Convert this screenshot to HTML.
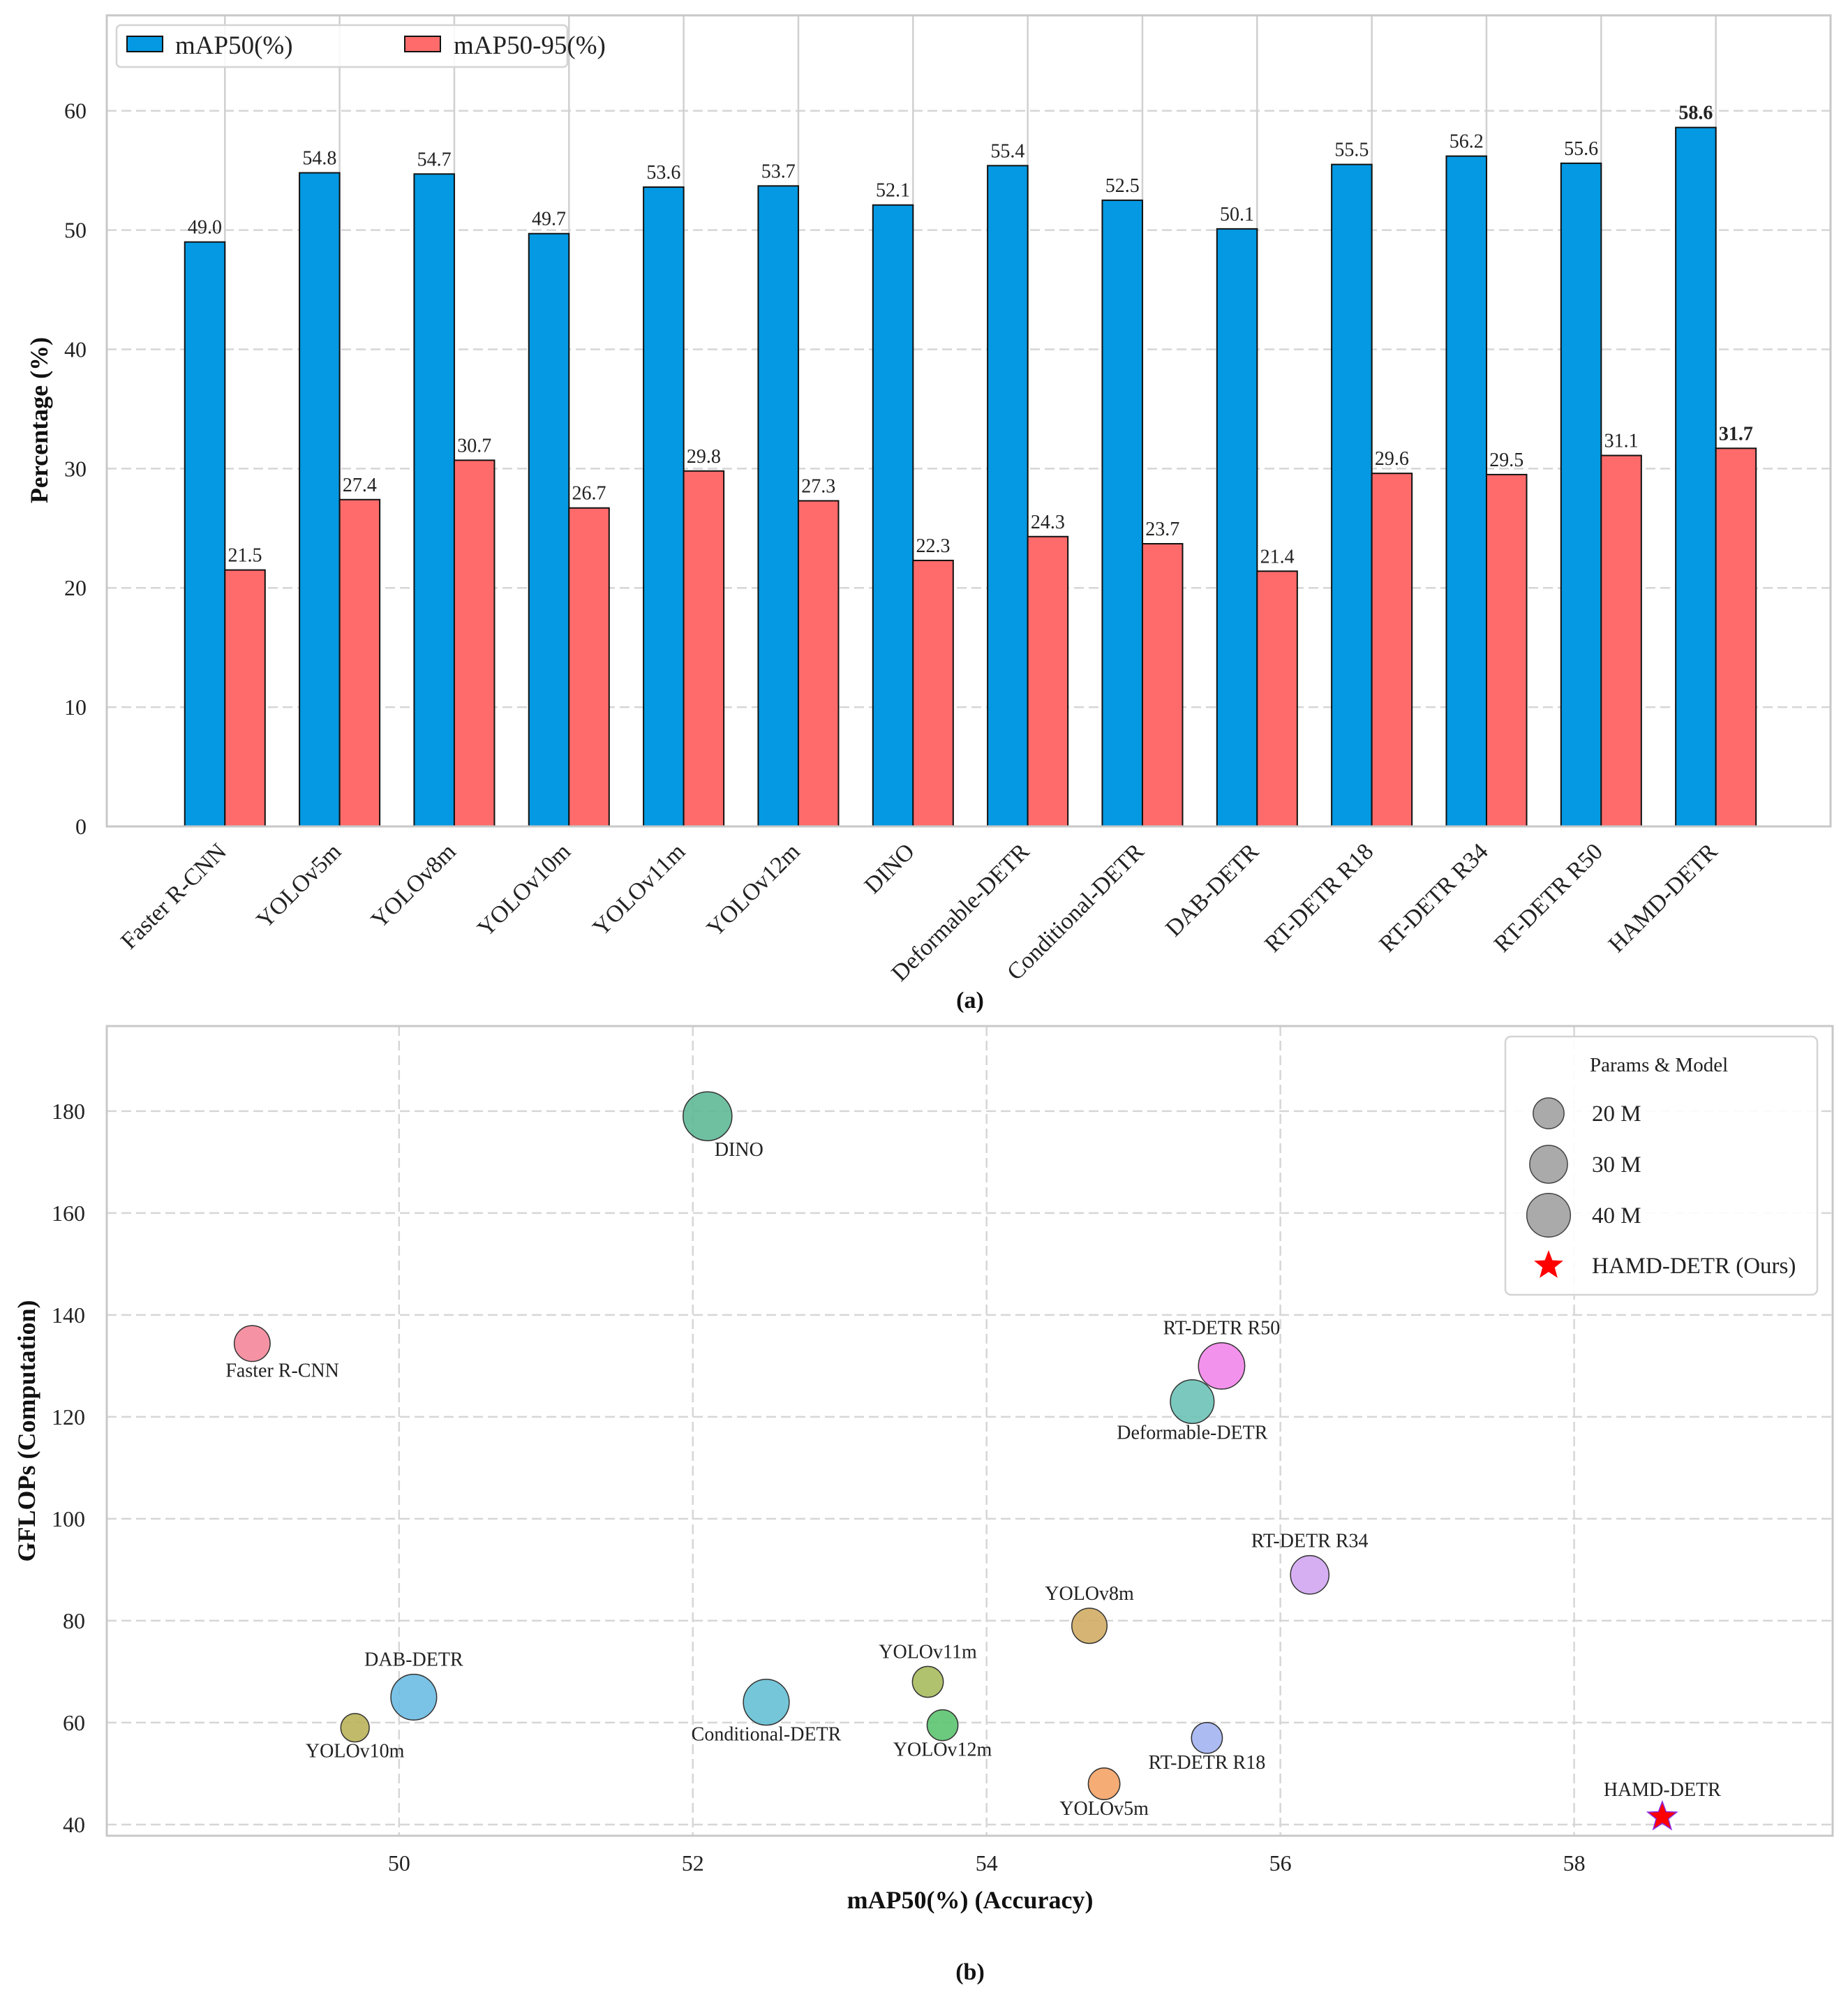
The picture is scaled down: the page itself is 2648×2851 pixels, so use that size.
<!DOCTYPE html>
<html><head><meta charset="utf-8"><style>
html,body{margin:0;padding:0;background:#fff;}
svg{display:block;font-family:"Liberation Serif",serif;}
</style></head><body>
<svg id="fig" width="2648" height="2851" viewBox="0 0 2648 2851" xmlns="http://www.w3.org/2000/svg"></svg>
<script>
const models = ["Faster R-CNN","YOLOv5m","YOLOv8m","YOLOv10m","YOLOv11m","YOLOv12m","DINO","Deformable-DETR","Conditional-DETR","DAB-DETR","RT-DETR R18","RT-DETR R34","RT-DETR R50","HAMD-DETR"];
const map50 = [49.0,54.8,54.7,49.7,53.6,53.7,52.1,55.4,52.5,50.1,55.5,56.2,55.6,58.6];
const map5095 = [21.5,27.4,30.7,26.7,29.8,27.3,22.3,24.3,23.7,21.4,29.6,29.5,31.1,31.7];
const yTicksA = [0,10,20,30,40,50,60];
const gflops = [134.4,48,79,59,68,59.5,179,123,64,65,57,89,130,41.5];
const params = [27,21,26,17,20,20,50,40,44,44,20,31,45,0];
const colors = ["#f4879b","#f4a366","#d1ad65","#b9b25a","#a9bb5e","#5cc470","#5fb996","#6cc2b7","#66c0d4","#6cbbe3","#a4b4f2","#d1a6f2","#f286ea","#ff0000"];
const xTicksB = [50,52,54,56,58];
const yTicksB = [40,60,80,100,120,140,160,180];
const legendSizes = [20,30,40];

const NS="http://www.w3.org/2000/svg";
const svg=document.getElementById('fig');
function mk(tag,attrs,parent,text){const e=document.createElementNS(NS,tag);for(const k in attrs)e.setAttribute(k,attrs[k]);if(text!==undefined)e.textContent=text;(parent||svg).appendChild(e);return e;}

// ---------- Chart (a) ----------
const A={l:153,r:2623,t:22,b:1184,x0:-1.03,x1:14.0,y0:0,y1:68};
const ax=v=>A.l+(v-A.x0)/(A.x1-A.x0)*(A.r-A.l);
const ay=v=>A.b-(v-A.y0)/(A.y1-A.y0)*(A.b-A.t);
const gA=mk('g',{});


yTicksA.forEach(t=>{
  const l=mk('line',{x1:A.l,x2:A.r,y1:ay(t),y2:ay(t),stroke:'#d6d6d6','stroke-width':2.5,'stroke-dasharray':'14,7'},gA);
  
  const tx=mk('text',{x:124,y:ay(t)+11,'text-anchor':'end','font-size':32,fill:'#222'},gA,String(t));
  
});
models.forEach((m,i)=>{
  const l=mk('line',{x1:ax(i),x2:ax(i),y1:A.t,y2:A.b,stroke:'#d0d0d0','stroke-width':2.5},gA);
  
});
const bw=0.35*(ax(1)-ax(0));
models.forEach((m,i)=>{
  const bold=i===models.length-1;
  const b1=mk('rect',{x:ax(i)-bw,y:ay(map50[i]),width:bw,height:ay(0)-ay(map50[i]),fill:'#0499e2',stroke:'#111','stroke-width':2},gA);
  
  const b2=mk('rect',{x:ax(i),y:ay(map5095[i]),width:bw,height:ay(0)-ay(map5095[i]),fill:'#ff6b6b',stroke:'#111','stroke-width':2},gA);
  
  const t1=mk('text',{x:ax(i)-bw/2,y:ay(map50[i])-12,'text-anchor':'middle','font-size':28,fill:'#222','font-weight':bold?'bold':'normal'},gA,map50[i].toFixed(1));
  
  const t2=mk('text',{x:ax(i)+bw/2,y:ay(map5095[i])-12,'text-anchor':'middle','font-size':28,fill:'#222','font-weight':bold?'bold':'normal'},gA,map5095[i].toFixed(1));
  
  const tl=mk('text',{x:0,y:0,'text-anchor':'end','font-size':34,fill:'#222',transform:`translate(${ax(i)+4},${A.b+38}) rotate(-45)`},gA,m);
  
});
const fa=mk('rect',{x:A.l,y:A.t,width:A.r-A.l,height:A.b-A.t,fill:'none',stroke:'#c8c8c8','stroke-width':3},gA);

const yla=mk('text',{x:0,y:0,'text-anchor':'middle','font-size':36,'font-weight':'bold',fill:'#111',transform:'translate(68,602) rotate(-90)'},gA,'Percentage (%)');

const capA=mk('text',{x:1390,y:1444,'text-anchor':'middle','font-size':34,'font-weight':'bold',fill:'#111'},gA,'(a)');

// legend a
const lgA=mk('g',{},gA);

mk('rect',{x:167,y:36,width:646,height:60,rx:6,fill:'rgba(255,255,255,0.85)',stroke:'#d4d4d4','stroke-width':2.5},lgA);
const le1=mk('rect',{x:182,y:52,width:51,height:22,fill:'#0499e2',stroke:'#111','stroke-width':2},lgA);

const lt1=mk('text',{x:251,y:77,'font-size':37,fill:'#222'},lgA,'mAP50(%)');

const le2=mk('rect',{x:580,y:52,width:51,height:22,fill:'#ff6b6b',stroke:'#111','stroke-width':2},lgA);

const lt2=mk('text',{x:650,y:77,'font-size':37,fill:'#222'},lgA,'mAP50-95(%)');


// ---------- Chart (b) ----------
const B={l:153,r:2626,t:1470,b:2630,x0:48.01,x1:59.76,y0:37.8,y1:196.7};
const bx=v=>B.l+(v-B.x0)/(B.x1-B.x0)*(B.r-B.l);
const by=v=>B.b-(v-B.y0)/(B.y1-B.y0)*(B.b-B.t);
const gB=mk('g',{});


yTicksB.forEach(t=>{
  const l=mk('line',{x1:B.l,x2:B.r,y1:by(t),y2:by(t),stroke:'#d6d6d6','stroke-width':2.5,'stroke-dasharray':'14,7'},gB);
  
  const tx=mk('text',{x:122,y:by(t)+11,'text-anchor':'end','font-size':32,fill:'#222'},gB,String(t));
  
});
xTicksB.forEach(t=>{
  const l=mk('line',{x1:bx(t),x2:bx(t),y1:B.t,y2:B.b,stroke:'#d6d6d6','stroke-width':2.5,'stroke-dasharray':'14,7'},gB);
  
  const tx=mk('text',{x:bx(t),y:2680,'text-anchor':'middle','font-size':32,fill:'#222'},gB,String(t));
  
});
const rad=p=>4.95*Math.sqrt(p);
const place=["br","b","a","b","a","b","br","b","b","a","b","a","a","a"];
function star(cx,cy,R){let d='';for(let k=0;k<10;k++){const r=k%2?R*0.42:R;const a=-Math.PI/2+k*Math.PI/5;d+=(k?'L':'M')+(cx+r*Math.cos(a)).toFixed(1)+','+(cy+r*Math.sin(a)).toFixed(1);}return d+'Z';}
models.forEach((m,i)=>{
  const cx=bx(map50[i]),cy=by(gflops[i]);
  let r;
  if(i===models.length-1){
    r=18;
    const s=mk('path',{d:star(cx,cy,22),fill:'#ff0000',stroke:'#8a2be2','stroke-width':1.5},gB);
    
  } else {
    r=rad(params[i]);
    const c=mk('circle',{cx:cx,cy:cy,r:r,fill:colors[i],'fill-opacity':0.9,stroke:'#333','stroke-width':1.5},gB);
    
  }
  let tx=cx,ty,anchor='middle';
  if(place[i]==='a'){ty=cy-r-12;}
  else if(place[i]==='b'){ty=cy+r+22;}
  else {tx=cx+10;ty=cy+r+22;anchor='start';}
  if(place[i]==='br'&&i===0){tx=cx-38;}
  const t=mk('text',{x:tx,y:ty,'text-anchor':anchor,'font-size':28,fill:'#222'},gB,m);
  
});
const fb=mk('rect',{x:B.l,y:B.t,width:B.r-B.l,height:B.b-B.t,fill:'none',stroke:'#c8c8c8','stroke-width':3},gB);

const ylb=mk('text',{x:0,y:0,'text-anchor':'middle','font-size':36,'font-weight':'bold',fill:'#111',transform:'translate(50,2050) rotate(-90)'},gB,'GFLOPs (Computation)');

const xlb=mk('text',{x:1390,y:2734,'text-anchor':'middle','font-size':36,'font-weight':'bold',fill:'#111'},gB,'mAP50(%) (Accuracy)');

const capB=mk('text',{x:1390,y:2836,'text-anchor':'middle','font-size':34,'font-weight':'bold',fill:'#111'},gB,'(b)');

// legend b
const lgB=mk('g',{},gB);

mk('rect',{x:2157,y:1485,width:447,height:370,rx:8,fill:'rgba(255,255,255,0.9)',stroke:'#d4d4d4','stroke-width':2.5},lgB);
const lgt=mk('text',{x:2278,y:1535,'font-size':29,fill:'#222'},lgB,'Params & Model');

const legY=[1595,1668,1741];
legendSizes.forEach((p,k)=>{
  const c=mk('circle',{cx:2219,cy:legY[k],r:rad(p),fill:'#aaaaaa',stroke:'#444','stroke-width':1.5},lgB);
  
  const t=mk('text',{x:2281,y:legY[k]+11,'font-size':33,fill:'#222'},lgB,p+' M');
  
});
const ls=mk('path',{d:star(2219,1813,22),fill:'#ff0000'},lgB);

const lst=mk('text',{x:2281,y:1824,'font-size':33,fill:'#222'},lgB,'HAMD-DETR (Ours)');

</script>
</body></html>
